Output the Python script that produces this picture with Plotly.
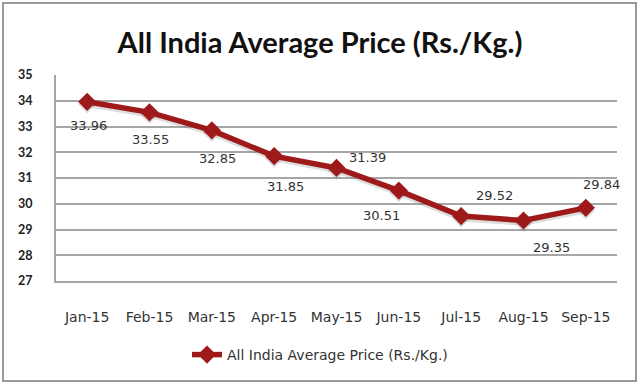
import plotly.graph_objects as go

months = ["Jan-15", "Feb-15", "Mar-15", "Apr-15", "May-15", "Jun-15", "Jul-15", "Aug-15", "Sep-15"]
prices = [33.96, 33.55, 32.85, 31.85, 31.39, 30.51, 29.52, 29.35, 29.84]
y_ticks = [27, 28, 29, 30, 31, 32, 33, 34, 35]
series_name = "All India Average Price (Rs./Kg.)"

# label offsets in pixels (style)
label_dx = [1, 1, 6, 11, 31, -17, 33, 28, 16]
label_dy = [-24, -27, -28, -30, 10, -25, 21, -27, 23]

W, H = 640, 385
L, R, T, B = 56, 23, 75, 104
pw, ph = W - L - R, H - T - B

line_color = "#9E1A1A"
title_font = "Lato, Open Sans, sans-serif"
small_font = "DejaVu Sans, sans-serif"

fig = go.Figure()
# soft shadow
fig.add_trace(go.Scatter(
    x=months, y=[p - 0.1 for p in prices], mode="lines+markers",
    line=dict(color="rgba(120,120,120,0.25)", width=5.5),
    marker=dict(symbol="diamond", size=14, color="rgba(120,120,120,0.25)"),
    hoverinfo="skip", showlegend=False,
))
fig.add_trace(go.Scatter(
    x=months, y=prices, mode="lines+markers", name=series_name,
    line=dict(color=line_color, width=5.5),
    marker=dict(symbol="diamond", size=14, color=line_color),
))

for m, p, dx, dy in zip(months, prices, label_dx, label_dy):
    fig.add_annotation(x=m, y=p, text=f"{p:.2f}", showarrow=False,
                       xshift=dx, yshift=dy,
                       font=dict(family=small_font, size=13, color="#333333"))

def px2paper_x(px):
    return (px - L) / pw

def px2paper_y(py):
    return (H - B - py) / ph

fig.add_shape(type="rect", xref="paper", yref="paper",
              x0=px2paper_x(3), x1=px2paper_x(636), y0=px2paper_y(381), y1=px2paper_y(3),
              line=dict(color="#9A9A9A", width=2), fillcolor="rgba(0,0,0,0)", layer="below")

fig.update_layout(
    width=W, height=H,
    margin=dict(l=L, r=R, t=T, b=B, autoexpand=False),
    paper_bgcolor="white", plot_bgcolor="white",
    title=dict(text=series_name, x=0.5, xref="container", xanchor="center",
               y=1 - 43 / H, yanchor="middle",
               font=dict(family=title_font, size=29, color="#111111", weight="bold")),
    showlegend=True,
    legend=dict(orientation="h", x=0.5, xanchor="center", xref="container",
                y=-(355 - (H - B)) / ph, yanchor="middle",
                font=dict(family=small_font, size=14, color="#333333")),
    font=dict(family=small_font, size=12, color="#333333"),
)
fig.update_xaxes(type="category", categoryorder="array", categoryarray=months,
                 range=[-0.5, len(months) - 0.5], showgrid=False, automargin=False,
                 showline=True, linecolor="#A6A6A6", linewidth=2,
                 ticks="", ticklabelstandoff=22,
                 tickfont=dict(family=small_font, size=14, color="#333333"))
fig.update_yaxes(range=[27, 35], tickvals=y_ticks, showgrid=True, automargin=False,
                 gridcolor="#A6A6A6", gridwidth=2,
                 showline=True, linecolor="#A6A6A6", linewidth=2,
                 ticks="", ticklabelstandoff=19, zeroline=False,
                 tickfont=dict(family=title_font, size=12.5, color="#222222", weight="bold"))

fig.write_html("out.html", config={"displayModeBar": False},
               post_script="document.body.style.margin='0';document.body.style.overflow='hidden';")
